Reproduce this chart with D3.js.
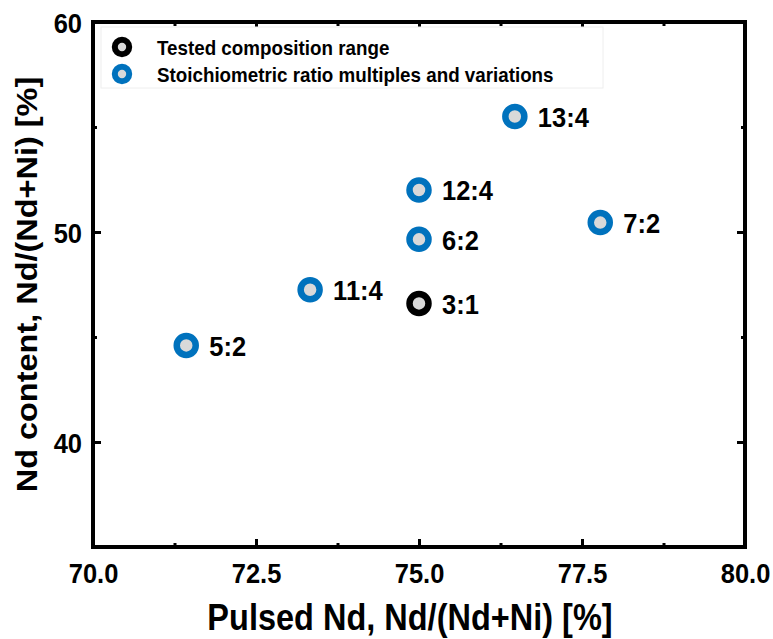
<!DOCTYPE html>
<html>
<head>
<meta charset="utf-8">
<script src="https://cdn.jsdelivr.net/npm/d3@7"></script>
<style>
  html, body { margin: 0; padding: 0; background: #fff; }
  svg { display: block; }
  text { font-family: "Liberation Sans", Arial, sans-serif; font-weight: bold; fill: #000; }
</style>
</head>
<body>
<svg id="chart" width="773" height="639"></svg>
<script>
// ---- data ----
const testedLabels = ["3:1"];
const testedX = [75.0];
const testedY = [46.6];

const stoichLabels = ["5:2", "11:4", "6:2", "12:4", "13:4", "7:2"];
const stoichX = [71.43, 73.33, 75.0, 75.0, 76.47, 77.78];
const stoichY = [44.6, 47.25, 49.65, 52.0, 55.5, 50.45];

const xMajorTicks = [70, 72.5, 75, 77.5, 80];
const xMinorTicks = [71.25, 73.75, 76.25, 78.75];
const yMajorTicks = [40, 50, 60];
const yMinorTicks = [35, 45, 55];

const legendLabels = ["Tested composition range", "Stoichiometric ratio multiples and variations"];
const seriesColors = ["#000000", "#0072BD"];
const xTitle = "Pulsed Nd, Nd/(Nd+Ni) [%]";
const yTitle = "Nd content, Nd/(Nd+Ni) [%]";

// ---- layout ----
const L = 93, R = 745, T = 22, B = 547;
const S = 1.12; // vertical stretch of the lettering
const FONT = "Liberation Sans, Arial, sans-serif";
const svg = d3.select("#chart");
const x = d3.scaleLinear().domain([70, 80]).range([L, R]);
const y = d3.scaleLinear().domain([35, 60]).range([B, T]);

const majorLen = 8, minorLen = 4;

function styleAxis(g) {
  g.select(".domain").remove();
  g.selectAll(".tick line").attr("stroke", "#000").attr("stroke-width", 3);
}
function styleText(sel, size) {
  sel.style("font-size", size + "px").style("font-family", FONT).style("font-weight", "bold").attr("fill", "#000");
}
// bottom
svg.append("g").attr("transform", `translate(0,${B})`)
  .call(d3.axisBottom(x).tickValues(xMajorTicks).tickSizeInner(-majorLen).tickSizeOuter(0).tickFormat(d3.format(".1f")))
  .call(styleAxis)
  .call(g => g.selectAll(".tick text").attr("y", 0).attr("dy", "0.71em")
     .attr("transform", `translate(0,16) scale(1,${S})`).call(styleText, 25.5));
svg.append("g").attr("transform", `translate(0,${B})`)
  .call(d3.axisBottom(x).tickValues(xMinorTicks).tickSizeInner(-minorLen).tickSizeOuter(0).tickFormat(""))
  .call(styleAxis);
// top
svg.append("g").attr("transform", `translate(0,${T})`)
  .call(d3.axisTop(x).tickValues(xMajorTicks).tickSizeInner(-majorLen).tickSizeOuter(0).tickFormat(""))
  .call(styleAxis);
svg.append("g").attr("transform", `translate(0,${T})`)
  .call(d3.axisTop(x).tickValues(xMinorTicks).tickSizeInner(-minorLen).tickSizeOuter(0).tickFormat(""))
  .call(styleAxis);
// left
svg.append("g").attr("transform", `translate(${L},0)`)
  .call(d3.axisLeft(y).tickValues(yMajorTicks).tickSizeInner(-majorLen).tickSizeOuter(0).tickFormat(d3.format("d")))
  .call(styleAxis)
  .call(g => g.selectAll(".tick text").attr("x", 0).attr("dy", "0.36em")
     .attr("transform", `translate(-11,0) scale(1,${S})`).call(styleText, 25.5));
svg.append("g").attr("transform", `translate(${L},0)`)
  .call(d3.axisLeft(y).tickValues(yMinorTicks).tickSizeInner(-minorLen).tickSizeOuter(0).tickFormat(""))
  .call(styleAxis);
// right
svg.append("g").attr("transform", `translate(${R},0)`)
  .call(d3.axisRight(y).tickValues(yMajorTicks).tickSizeInner(-majorLen).tickSizeOuter(0).tickFormat(""))
  .call(styleAxis);
svg.append("g").attr("transform", `translate(${R},0)`)
  .call(d3.axisRight(y).tickValues(yMinorTicks).tickSizeInner(-minorLen).tickSizeOuter(0).tickFormat(""))
  .call(styleAxis);

// frame
svg.append("rect").attr("x", L).attr("y", T).attr("width", R - L).attr("height", B - T)
  .attr("fill", "none").attr("stroke", "#000").attr("stroke-width", 4);

// legend
const legend = svg.append("g");
legend.append("rect").attr("x", 101).attr("y", 27).attr("width", 502).attr("height", 61)
  .attr("fill", "#fff").attr("stroke", "#eeeeee").attr("stroke-width", 1);
legendLabels.forEach((lab, i) => {
  const ly = 47 + i * 27;
  legend.append("circle").attr("cx", 122).attr("cy", ly).attr("r", 7.2)
    .attr("fill", "#d9d9d9").attr("stroke", seriesColors[i]).attr("stroke-width", 6);
  legend.append("text").attr("transform", `translate(157,${ly}) scale(1,${S})`).attr("dy", "0.36em")
    .style("font-size", "18.8px").text(lab);
});

// points
function drawSeries(xs, ys, labels, color) {
  const data = xs.map((d, i) => ({ x: d, y: ys[i], label: labels[i] }));
  const g = svg.append("g");
  g.selectAll("circle").data(data).join("circle")
    .attr("cx", d => x(d.x)).attr("cy", d => y(d.y)).attr("r", 9.5)
    .attr("fill", "#d9d9d9").attr("stroke", color).attr("stroke-width", 6.5);
  g.selectAll("text").data(data).join("text")
    .attr("transform", d => `translate(${x(d.x) + 23},${y(d.y)}) scale(1,${S})`).attr("dy", "0.36em")
    .style("font-size", "25.5px").text(d => d.label);
}
drawSeries(stoichX, stoichY, stoichLabels, seriesColors[1]);
drawSeries(testedX, testedY, testedLabels, seriesColors[0]);

// axis titles
svg.append("text").attr("transform", `translate(410,617) scale(1,${S})`).attr("dy", "0.36em")
  .attr("text-anchor", "middle").style("font-size", "32.5px").text(xTitle);
svg.append("text").attr("transform", `translate(27,${(T + B) / 2}) scale(1,${S}) rotate(-90)`)
  .attr("dy", "0.36em").attr("text-anchor", "middle").style("font-size", "29px").text(yTitle);
</script>
</body>
</html>
